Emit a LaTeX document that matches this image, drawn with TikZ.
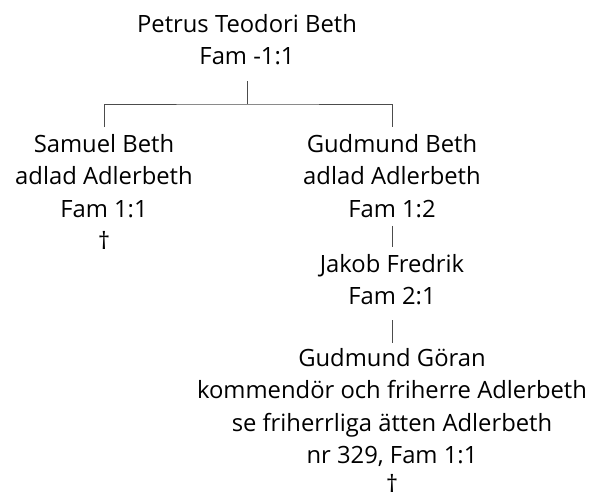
\documentclass[tikz,border=0pt]{standalone}
\usepackage{fontspec}
\setmainfont{Open Sans}
\usetikzlibrary{positioning}

\begin{document}
\begin{tikzpicture}[x=1pt,y=-1pt,
  person/.style={align=center, inner sep=0pt, anchor=north, font=\fontsize{23.8}{32.5}\selectfont},
  link/.style={draw=black!70, line width=0.8pt}]
\useasboundingbox (0,0) rectangle (590,498);
% Stamfar
\node[person] (petrus) at (247,14) {Petrus Teodori Beth\\Fam -1:1};

% Barn
\node[person] (samuel) at (104,134) {Samuel Beth\\adlad Adlerbeth\\Fam 1:1\\†};
\node[person] (gudmund) at (392,134) {Gudmund Beth\\adlad Adlerbeth\\Fam 1:2};

% Efterkommande
\node[person] (jakob) at (392,254) {Jakob Fredrik\\Fam 2:1};
\node[person] (goran) at (392,348) {Gudmund Göran\\kommendör och friherre Adlerbeth\\se friherrliga ätten Adlerbeth\\nr 329, Fam 1:1\\[-4pt]†};

\coordinate (fork) at (247,104);
\draw[link] ([yshift=-16pt]petrus.south) -- (fork);
\draw[link] ([yshift=7pt]samuel.north) |- (fork) -| ([yshift=7pt]gudmund.north);
\draw[link] ([yshift=-8pt]gudmund.south) -- ([yshift=7pt]jakob.north);
\draw[link] ([yshift=-15pt]jakob.south) -- ([yshift=5pt]goran.north);
\end{tikzpicture}
\end{document}
